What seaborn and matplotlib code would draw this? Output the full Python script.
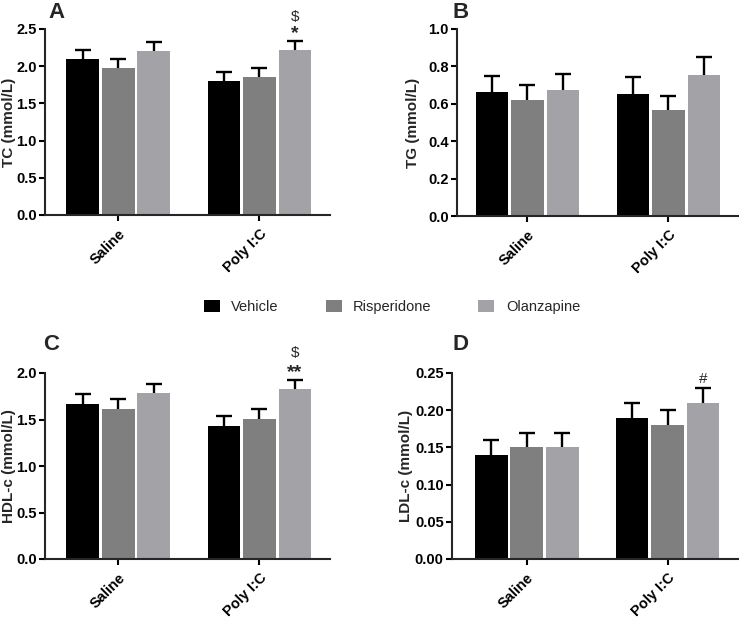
import numpy as np
import pandas as pd
import matplotlib
matplotlib.use("Agg")
import matplotlib.pyplot as plt
from matplotlib.patches import Patch
import seaborn as sns

groups = ["Saline", "Poly I:C"]
treatments = ["Vehicle", "Risperidone", "Olanzapine"]
colors = ["#000000", "#7f7f7f", "#a3a3a7"]

# values per group in treatment order (Vehicle, Risperidone, Olanzapine)
tc_mean = {"Saline": [2.10, 1.98, 2.20], "Poly I:C": [1.80, 1.85, 2.22]}
tc_err = {"Saline": [0.12, 0.12, 0.13], "Poly I:C": [0.12, 0.12, 0.12]}
tg_mean = {"Saline": [0.665, 0.62, 0.675], "Poly I:C": [0.655, 0.568, 0.752]}
tg_err = {"Saline": [0.085, 0.078, 0.085], "Poly I:C": [0.086, 0.072, 0.10]}
hdl_mean = {"Saline": [1.665, 1.618, 1.78], "Poly I:C": [1.435, 1.51, 1.83]}
hdl_err = {"Saline": [0.105, 0.105, 0.10], "Poly I:C": [0.105, 0.10, 0.10]}
ldl_mean = {"Saline": [0.14, 0.15, 0.15], "Poly I:C": [0.19, 0.18, 0.21]}
ldl_err = {"Saline": [0.02, 0.02, 0.02], "Poly I:C": [0.02, 0.02, 0.02]}

sns.set_style("ticks")
plt.rcParams["font.family"] = ["Liberation Sans", "DejaVu Sans"]

fig = plt.figure(figsize=(7.39, 6.2), dpi=100)

panels = [
    dict(letter="A", mean=tc_mean, err=tc_err, ylabel="TC (mmol/L)", ylim=(0, 2.5),
         yticks=[0.0, 0.5, 1.0, 1.5, 2.0, 2.5], fmt="{:.1f}",
         rect=[45/739, 1-215/620, 285/739, 186/620], xlim=(-0.52, 1.50),
         letter_xy=(48, 12), ylab_x=-0.10,
         marks=[("*", 2.44, 14, "bold"), ("$", 2.66, 11, "normal")]),
    dict(letter="B", mean=tg_mean, err=tg_err, ylabel="TG (mmol/L)", ylim=(0, 1.0),
         yticks=[0.0, 0.2, 0.4, 0.6, 0.8, 1.0], fmt="{:.1f}",
         rect=[457/739, 1-216/620, 281/739, 187/620], xlim=(-0.5, 1.493),
         letter_xy=(453, 12), ylab_x=-0.13, marks=[]),
    dict(letter="C", mean=hdl_mean, err=hdl_err, ylabel="HDL-c (mmol/L)", ylim=(0, 2.0),
         yticks=[0.0, 0.5, 1.0, 1.5, 2.0], fmt="{:.1f}",
         rect=[45/739, 1-559/620, 285/739, 186/620], xlim=(-0.52, 1.50),
         letter_xy=(43, 345), ylab_x=-0.10,
         marks=[("**", 2.00, 14, "bold"), ("$", 2.215, 11, "normal")]),
    dict(letter="D", mean=ldl_mean, err=ldl_err, ylabel="LDL-c (mmol/L)", ylim=(0, 0.25),
         yticks=[0.0, 0.05, 0.10, 0.15, 0.20, 0.25], fmt="{:.2f}",
         rect=[452/739, 1-559/620, 286/739, 186/620], xlim=(-0.53, 1.50),
         letter_xy=(453, 345), ylab_x=-0.135,
         marks=[("#", 0.242, 11, "normal")]),
]

for p in panels:
    ax = fig.add_axes(p["rect"])
    rows = []
    for g in groups:
        for t, v in zip(treatments, p["mean"][g]):
            rows.append({"group": g, "treatment": t, "value": v})
    df = pd.DataFrame(rows)
    sns.barplot(data=df, x="group", y="value", hue="treatment", order=groups,
                hue_order=treatments, palette=colors, width=0.755, gap=0.075,
                errorbar=None, saturation=1, ax=ax, legend=False, linewidth=0)
    bars = sorted([b for b in ax.patches if b.get_height() > 0], key=lambda b: b.get_x())
    errs = p["err"]["Saline"] + p["err"]["Poly I:C"]
    xs = [b.get_x() + b.get_width() / 2 for b in bars]
    hs = [b.get_height() for b in bars]
    eb = ax.errorbar(xs, hs, yerr=[np.zeros(len(errs)), errs], fmt="none", ecolor="black",
                     elinewidth=1.7, capsize=5.5, capthick=1.7, clip_on=False, zorder=1)
    caps = eb[1]
    if len(caps) >= 2:
        caps[0].set_visible(False)  # hide lower cap (at bar top)
    for c in caps:
        c.set_clip_on(False)
    for lc in eb[2]:
        lc.set_clip_on(False)
    for b in bars:
        b.set_zorder(2)
    ax.set_xlim(*p["xlim"])
    ax.set_ylim(*p["ylim"])
    ax.set_yticks(p["yticks"])
    ax.set_yticklabels([p["fmt"].format(v) for v in p["yticks"]], fontweight="bold", fontsize=10.5)
    ax.set_xticks([0, 1])
    ax.set_xticklabels(groups, rotation=45, ha="right", rotation_mode="anchor",
                       fontweight="bold", fontsize=10.5)
    ax.set_xlabel("")
    ax.set_ylabel(p["ylabel"], fontweight="bold", fontsize=11)
    ax.yaxis.set_label_coords(p["ylab_x"], 0.5)
    for s in ["top", "right"]:
        ax.spines[s].set_visible(False)
    for s in ["left", "bottom"]:
        ax.spines[s].set_linewidth(1.5)
    ax.tick_params(axis="both", width=1.5, length=4.5, colors="black", pad=1.5)
    ax.tick_params(axis="x", pad=4)
    ox = xs[-1]
    for txt, y, fs, fw in p["marks"]:
        ax.text(ox, y, txt, ha="center", va="center", fontsize=fs, fontweight=fw)
    lx, ly = p["letter_xy"]
    fig.text(lx/739, 1-ly/620, p["letter"], fontsize=16, fontweight="bold",
             ha="left", va="center")

handles = [Patch(facecolor=c, edgecolor="none") for c in colors]
fig.legend(handles, treatments, loc="center", bbox_to_anchor=(392/739, 1-307/620),
           ncol=3, frameon=False, fontsize=10.5, handlelength=1.1, handleheight=0.8,
           handletextpad=0.8, columnspacing=3.2)

fig.savefig("out.png", dpi=100)
